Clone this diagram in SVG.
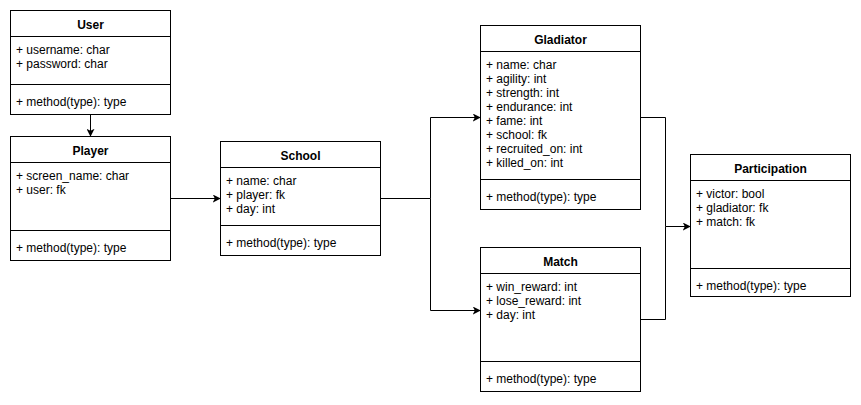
<svg xmlns="http://www.w3.org/2000/svg" width="861" height="405" viewBox="0 0 861 405">
<style>
.box{fill:#fff;stroke:#000;stroke-width:1}
.ln{stroke:#000;stroke-width:1;fill:none}
text{font-family:"Liberation Sans",Arial,sans-serif;font-size:12px;fill:#000}
.t{font-weight:bold;text-anchor:middle}
</style>
<defs>
<marker id="arr" viewBox="0 0 10 10" refX="9" refY="5" markerWidth="8" markerHeight="8" markerUnits="userSpaceOnUse" orient="auto">
<path d="M0,0 L10,5 L0,10 L2.5,5 Z" fill="#000"/>
</marker>
</defs>
<rect width="861" height="405" fill="#fff"/>
<g id="connectors">
<path class="ln" d="M90.5,114.5 V136" marker-end="url(#arr)"/>
<path class="ln" d="M170.5,198.5 H220" marker-end="url(#arr)"/>
<path class="ln" d="M380.5,198.5 H430.5 V117.5 H480" marker-end="url(#arr)"/>
<path class="ln" d="M430.5,198.5 V310.5 H480" marker-end="url(#arr)"/>
<path class="ln" d="M640.5,117.5 H665.5 V226.5 H690" marker-end="url(#arr)"/>
<path class="ln" d="M640.5,319.5 H665.5 V226.5"/>
</g>
<g id="user">
<rect class="box" x="10.5" y="10.5" width="160" height="104"/>
<path class="ln" d="M10.5,36.5 H170.5 M10.5,84.5 H170.5"/>
<text class="t" x="90.5" y="29">User</text>
<text x="16" y="54">+ username: char</text>
<text x="16" y="68">+ password: char</text>
<text x="16" y="106">+ method(type): type</text>
</g>
<g id="player">
<rect class="box" x="10.5" y="136.5" width="160" height="124"/>
<path class="ln" d="M10.5,162.5 H170.5 M10.5,230.5 H170.5"/>
<text class="t" x="90.5" y="155">Player</text>
<text x="16" y="180">+ screen_name: char</text>
<text x="16" y="194">+ user: fk</text>
<text x="16" y="252">+ method(type): type</text>
</g>
<g id="school">
<rect class="box" x="220.5" y="141.5" width="160" height="114"/>
<path class="ln" d="M220.5,167.5 H380.5 M220.5,225.5 H380.5"/>
<text class="t" x="300.5" y="160">School</text>
<text x="226" y="185">+ name: char</text>
<text x="226" y="199">+ player: fk</text>
<text x="226" y="213">+ day: int</text>
<text x="226" y="247">+ method(type): type</text>
</g>
<g id="gladiator">
<rect class="box" x="480.5" y="25.5" width="160" height="184"/>
<path class="ln" d="M480.5,51.5 H640.5 M480.5,179.5 H640.5"/>
<text class="t" x="560.5" y="44">Gladiator</text>
<text x="486" y="69">+ name: char</text>
<text x="486" y="83">+ agility: int</text>
<text x="486" y="97">+ strength: int</text>
<text x="486" y="111">+ endurance: int</text>
<text x="486" y="125">+ fame: int</text>
<text x="486" y="139">+ school: fk</text>
<text x="486" y="153">+ recruited_on: int</text>
<text x="486" y="167">+ killed_on: int</text>
<text x="486" y="201">+ method(type): type</text>
</g>
<g id="match">
<rect class="box" x="480.5" y="247.5" width="160" height="144"/>
<path class="ln" d="M480.5,273.5 H640.5 M480.5,361.5 H640.5"/>
<text class="t" x="560.5" y="266">Match</text>
<text x="486" y="291">+ win_reward: int</text>
<text x="486" y="305">+ lose_reward: int</text>
<text x="486" y="319">+ day: int</text>
<text x="486" y="383">+ method(type): type</text>
</g>
<g id="participation">
<rect class="box" x="690.5" y="154.5" width="160" height="142"/>
<path class="ln" d="M690.5,180.5 H850.5 M690.5,268.5 H850.5"/>
<text class="t" x="770.5" y="173">Participation</text>
<text x="696" y="198">+ victor: bool</text>
<text x="696" y="212">+ gladiator: fk</text>
<text x="696" y="226">+ match: fk</text>
<text x="696" y="290">+ method(type): type</text>
</g>
</svg>
